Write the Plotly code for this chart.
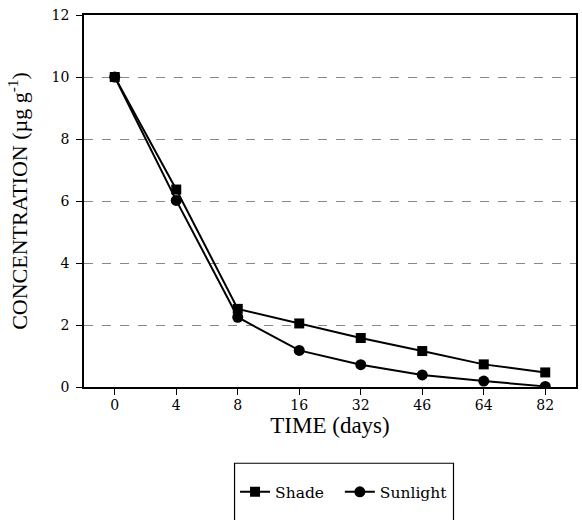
import plotly.graph_objects as go

days = ["0", "4", "8", "16", "32", "46", "64", "82"]
shade = [10.0, 6.37, 2.52, 2.05, 1.58, 1.16, 0.73, 0.47]
sunlight = [10.0, 6.02, 2.25, 1.18, 0.72, 0.39, 0.19, 0.02]

FONT = "'Liberation Serif', 'DejaVu Serif', serif"
FONT_D = "'DejaVu Serif', serif"

fig = go.Figure()
fig.add_trace(go.Scatter(
    x=days, y=sunlight, name="Sunlight", mode="lines+markers",
    line=dict(color="black", width=2),
    marker=dict(symbol="circle", size=11, color="black"),
    legend="legend2",
))
fig.add_trace(go.Scatter(
    x=days, y=shade, name="Shade", mode="lines+markers",
    line=dict(color="black", width=2),
    marker=dict(symbol="square", size=10, color="black"),
    legend="legend",
))

legend_common = dict(
    orientation="h", yanchor="middle", y=-0.283, xanchor="left",
    font=dict(family=FONT_D, size=15.5, color="black"),
    bgcolor="rgba(0,0,0,0)", borderwidth=0, itemwidth=30,
)

fig.update_layout(
    width=582, height=520,
    margin=dict(l=84, r=4, t=15, b=133),
    paper_bgcolor="white", plot_bgcolor="white",
    font=dict(family=FONT, color="black", size=16),
    showlegend=True,
    legend=dict(x=0.307, **legend_common),
    legend2=dict(x=0.52, **legend_common),
    xaxis=dict(
        type="category", range=[-0.5, 7.5],
        showline=True, linecolor="black", linewidth=1.5, mirror=True,
        ticks="outside", ticklen=6, tickcolor="black",
        showgrid=False, zeroline=False,
        tickfont=dict(family=FONT_D, size=14),
        ticklabelstandoff=-2,
        title=dict(text="TIME (days)", font=dict(family=FONT, size=23), standoff=1),
    ),
    yaxis=dict(
        range=[0, 12], tickvals=[0, 2, 4, 6, 8, 10, 12],
        showline=True, linecolor="black", linewidth=1.5, mirror=True,
        ticks="outside", ticklen=6, tickcolor="black",
        showgrid=True, gridcolor="#888888", griddash="dash", gridwidth=1,
        zeroline=False,
        tickfont=dict(family=FONT_D, size=14),
        ticklabelstandoff=4,
        title=dict(text="CONCENTRATION (µg g<sup>-1</sup>)", font=dict(family=FONT, size=22), standoff=18),
    ),
    shapes=[dict(
        type="rect", xref="paper", yref="paper",
        x0=0.306, x1=0.751, y0=-0.205, y1=-0.40,
        line=dict(color="black", width=1.2), fillcolor="rgba(0,0,0,0)",
    )],
)

fig.write_html("out.html")
